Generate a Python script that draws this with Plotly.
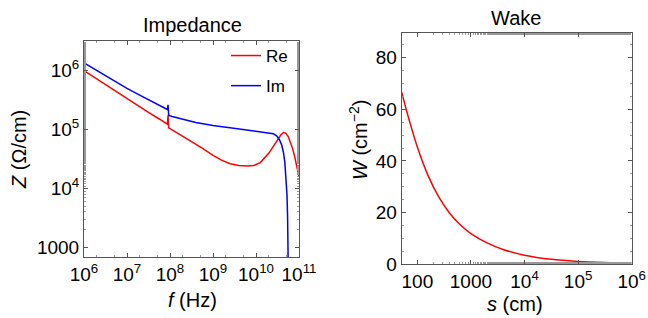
import plotly.graph_objects as go

# ---------------- data ----------------
# Impedance (left panel): real part
re_freq = [1e6, 1.78e6, 3.16e6, 5.62e6, 1e7, 1.78e7, 3.16e7, 5.62e7, 8.7e7, 9.0e7,
           9.33e7, 1.12e8, 2.0e8, 3.47e8, 5.62e8, 1e9, 1.58e9, 2.51e9, 3.98e9, 6.31e9,
           8.91e9, 1.26e10, 1.58e10, 2.0e10, 2.51e10, 3.16e10, 3.8e10, 4.37e10, 4.9e10,
           5.62e10, 6.31e10, 7.08e10, 7.94e10, 8.91e10, 1e11]
re_z = [1.0e6, 7.6e5, 5.75e5, 4.37e5, 3.31e5, 2.54e5, 1.95e5, 1.51e5, 1.23e5, 1.74e5,
        1.07e5, 9.9e4, 7.67e4, 6.03e4, 4.84e4, 3.63e4, 3.02e4, 2.63e4, 2.45e4, 2.41e4,
        2.45e4, 2.75e4, 3.24e4, 3.98e4, 5.13e4, 6.76e4, 8.13e4, 8.91e4, 8.71e4,
        7.59e4, 6.17e4, 4.79e4, 3.47e4, 2.4e4, 1.58e4]

# Impedance (left panel): imaginary part (drops through zero near 5.6e10 Hz)
im_freq = [1e6, 1.78e6, 3.16e6, 5.62e6, 1e7, 1.78e7, 3.16e7, 5.62e7, 8.7e7, 9.0e7,
           9.33e7, 1.12e8, 2.0e8, 3.98e8, 1e9, 2.51e9, 6.31e9, 1.26e10, 2.0e10,
           2.51e10, 3.02e10, 3.55e10, 3.98e10, 4.37e10, 4.68e10, 5.01e10, 5.25e10,
           5.43e10, 5.56e10, 5.65e10]
im_z = [1.35e6, 1.05e6, 8.1e5, 6.3e5, 5.0e5, 4.0e5, 3.24e5, 2.63e5, 2.19e5, 2.63e5,
        1.74e5, 1.66e5, 1.48e5, 1.32e5, 1.17e5, 1.07e5, 9.8e4, 9.2e4, 8.8e4,
        8.5e4, 7.8e4, 6.6e4, 5.4e4, 4.0e4, 2.8e4, 1.58e4, 7.9e3,
        3.2e3, 1.0e3, 3.2e2]

# Wake (right panel)
wake_s = [51, 71, 100, 158, 251, 398, 631, 1000, 2000, 3981, 1e4, 3.16e4, 1e5, 3.16e5, 1e6]
wake_w = [66.7, 55.6, 45.4, 34.4, 26.0, 19.8, 15.2, 11.8, 8.2, 5.65, 3.4, 1.8, 1.0, 0.58, 0.35]

# tick labels
imp_x_vals = [1e6, 1e7, 1e8, 1e9, 1e10, 1e11]
imp_x_text = ["10<sup>6</sup>", "10<sup>7</sup>", "10<sup>8</sup>", "10<sup>9</sup>",
              "10<sup>10</sup>", "10<sup>11</sup>"]
imp_y_vals = [1000, 1e4, 1e5, 1e6]
imp_y_text = ["1000", "10<sup>4</sup>", "10<sup>5</sup>", "10<sup>6</sup>"]
wake_x_vals = [100, 1000, 1e4, 1e5, 1e6]
wake_x_text = ["100", "1000", "10<sup>4</sup>", "10<sup>5</sup>", "10<sup>6</sup>"]
wake_y_vals = [0, 20, 40, 60, 80]

# ---------------- figure ----------------
W, H = 648, 318
FONT = "Arial, Liberation Sans, sans-serif"
frame = "#555555"

fig = go.Figure()
fig.add_trace(go.Scatter(x=re_freq, y=re_z, mode="lines", name="Re",
                         line=dict(color="red", width=1.5), xaxis="x", yaxis="y",
                         legendgroup="re"))
fig.add_trace(go.Scatter(x=im_freq, y=im_z, mode="lines", name="Im",
                         line=dict(color="blue", width=1.5), xaxis="x", yaxis="y",
                         legendgroup="im"))
fig.add_trace(go.Scatter(x=wake_s, y=wake_w, mode="lines", name="W",
                         line=dict(color="red", width=1.5, shape="spline", smoothing=1.0),
                         xaxis="x2", yaxis="y2", showlegend=False))

def axis_common():
    return dict(showline=True, linecolor=frame, linewidth=1, mirror="allticks",
                ticks="inside", ticklen=4, tickcolor=frame, showgrid=False,
                zeroline=False, automargin=False,
                tickfont=dict(size=19, color="black", family=FONT),
                minor=dict(ticks="inside", ticklen=2, tickcolor="#999999", showgrid=False))

xa = axis_common()
xa.update(type="log", range=[6, 11], domain=[84 / W, 299 / W], anchor="y",
          tickvals=imp_x_vals, ticktext=imp_x_text)
ya = axis_common()
ya.update(type="log", range=[2.836, 6.503], domain=[1 - 257 / H, 1 - 41 / H], anchor="x",
          tickvals=imp_y_vals, ticktext=imp_y_text)
xa2 = axis_common()
xa2.update(type="log", range=[1.708, 6], domain=[401.7 / W, 631.7 / W], anchor="y2",
           tickvals=wake_x_vals, ticktext=wake_x_text)
ya2 = axis_common()
ya2.update(range=[0, 89.5], domain=[1 - 264 / H, 1 - 33.3 / H], anchor="x2",
           tickvals=wake_y_vals, minor=dict(ticks="inside", ticklen=2, tickcolor="#999999",
                                            dtick=5, showgrid=False))

def ann(text, x, y, size=20, angle=0):
    return dict(text=text, x=x / W, y=1 - y / H, xref="paper", yref="paper",
                showarrow=False, textangle=angle, xanchor="center", yanchor="middle",
                font=dict(size=size, color="black", family=FONT))

annotations = [
    ann("Impedance", 192, 25),
    ann("Wake", 516, 18),
    ann("<i>f</i> (Hz)", 192, 300),
    ann("<i>s</i> (cm)", 515, 304),
    ann("<i>Z</i> (Ω/cm)", 19, 150, angle=-90),
    ann("<i>W</i> (cm<sup>−2</sup>)", 358, 140, angle=-90),
]

fig.update_layout(
    width=W, height=H, margin=dict(l=0, r=0, t=0, b=0, autoexpand=False),
    paper_bgcolor="white", plot_bgcolor="white",
    font=dict(family=FONT, color="black"),
    xaxis=xa, yaxis=ya, xaxis2=xa2, yaxis2=ya2,
    annotations=annotations,
    showlegend=True,
    legend=dict(x=226 / W, y=1 - 38 / H, xanchor="left", yanchor="top",
                bgcolor="rgba(0,0,0,0)", font=dict(size=17, family=FONT, color="black"),
                traceorder="grouped", tracegroupgap=5, itemwidth=30),
)

fig.write_html(
    "out.html",
    config={"displayModeBar": False},
    post_script="document.body.style.margin='0';document.body.style.overflow='hidden';",
)
